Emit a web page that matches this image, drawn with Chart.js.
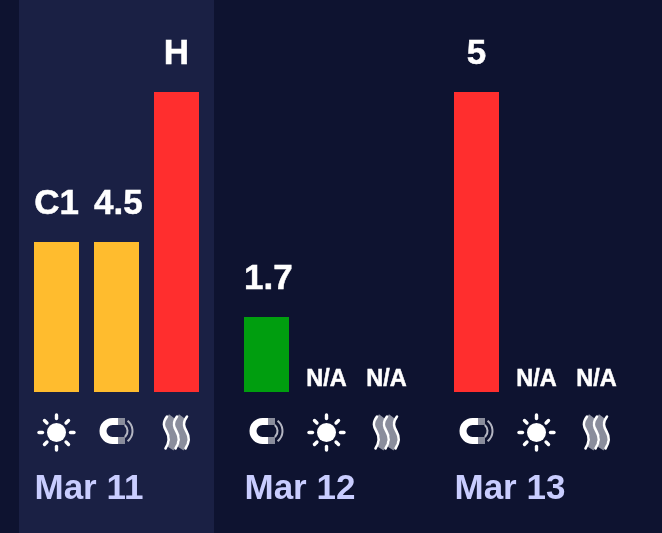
<!DOCTYPE html>
<html>
<head>
<meta charset="utf-8">
<script src="https://cdn.jsdelivr.net/npm/chart.js@4"></script>
<style>
html, body { margin: 0; padding: 0; background: #0e1330; overflow: hidden; }
canvas { display: block; }
</style>
</head>
<body>
<canvas id="nchart" width="662" height="533"></canvas>
<script>
const days = ["Mar 11", "Mar 12", "Mar 13"]

// bar height is the alert level: 1 low, 2 medium, 4 high, 0 no data
const levelsFirst = [2, 1, 4]
const levelsSecond = [2, 0, 0]
const levelsThird = [4, 0, 0]

const textFirst = ["C1", "1.7", "5"]
const textSecond = ["4.5", "N/A", "N/A"]
const textThird = ["H", "N/A", "N/A"]

const iconsFirst = ["sun", "magnet", "magnet"]
const iconsSecond = ["magnet", "sun", "sun"]
const iconsThird = ["heat", "heat", "heat"]

const levelColors = { 0: "#00000000", 1: "#009e0f", 2: "#ffbc2e", 4: "#ff2e2e" }
const band = "#1a2044"
const white = "#ffffff"
const grey = "#8a8d9c"

function drawSun(ctx, x, y) {
    ctx.fillStyle = white
    ctx.beginPath()
    ctx.arc(x, y, 9.5, 0, Math.PI * 2)
    ctx.fill()
    ctx.strokeStyle = white
    ctx.lineWidth = 3.4
    ctx.lineCap = "round"
    for (let i = 0; i < 8; i++) {
        const a = i * Math.PI / 4
        const long = i % 2 === 0
        const r1 = long ? 14 : 13.5
        const r2 = long ? 17.5 : 17
        ctx.beginPath()
        ctx.moveTo(x + Math.cos(a) * r1, y + Math.sin(a) * r1)
        ctx.lineTo(x + Math.cos(a) * r2, y + Math.sin(a) * r2)
        ctx.stroke()
    }
}

function drawMagnet(ctx, x, y) {
    const cx = x - 4
    const my = y - 1.5
    ctx.lineCap = "butt"
    ctx.lineWidth = 7
    ctx.strokeStyle = white
    ctx.beginPath()
    ctx.moveTo(cx + 6, my - 9.5)
    ctx.lineTo(cx, my - 9.5)
    ctx.arc(cx, my, 9.5, -Math.PI / 2, Math.PI / 2, true)
    ctx.lineTo(cx + 6, my + 9.5)
    ctx.stroke()
    ctx.strokeStyle = grey
    ctx.beginPath()
    ctx.moveTo(cx + 6, my - 9.5)
    ctx.lineTo(cx + 12.5, my - 9.5)
    ctx.moveTo(cx + 6, my + 9.5)
    ctx.lineTo(cx + 12.5, my + 9.5)
    ctx.stroke()
    ctx.strokeStyle = "#b4b6c2"
    ctx.lineWidth = 2
    ctx.beginPath()
    ctx.arc(x + 3, my, 8, -0.85, 0.85)
    ctx.stroke()
    ctx.beginPath()
    ctx.arc(x + 3, my, 13, -0.9, 0.9)
    ctx.stroke()
}

function wave(ctx, x, y) {
    ctx.beginPath()
    ctx.moveTo(x + 0.5, y - 16)
    ctx.bezierCurveTo(x - 4, y - 10, x - 3, y - 6, x, y - 1)
    ctx.bezierCurveTo(x + 3, y + 4, x + 3.5, y + 9, x - 1, y + 16)
    ctx.stroke()
}

function drawHeat(ctx, x, y) {
    ctx.lineCap = "butt"
    ctx.strokeStyle = grey
    ctx.lineWidth = 7.5
    wave(ctx, x - 5, y)
    wave(ctx, x + 5, y)
    ctx.lineCap = "round"
    ctx.strokeStyle = white
    ctx.lineWidth = 2.6
    wave(ctx, x - 10, y)
    wave(ctx, x, y)
    wave(ctx, x + 10, y)
}

const iconDraw = { sun: drawSun, magnet: drawMagnet, heat: drawHeat }

const bandPlugin = {
    id: "bandPlugin",
    beforeDraw(chart) {
        const ctx = chart.ctx
        const c = chart.scales.x.getPixelForTick(0)
        ctx.save()
        ctx.fillStyle = band
        ctx.fillRect(c - 97.5, 0, 195, chart.height)
        ctx.restore()
    }
}

const extrasPlugin = {
    id: "extrasPlugin",
    afterDatasetsDraw(chart) {
        const ctx = chart.ctx
        const base = chart.scales.y.getPixelForValue(0)
        ctx.save()
        ctx.textAlign = "left"
        ctx.textBaseline = "alphabetic"
        chart.data.datasets.forEach((ds, i) => {
            chart.getDatasetMeta(i).data.forEach((bar, j) => {
                const none = ds.data[j] === 0
                ctx.fillStyle = white
                ctx.strokeStyle = white
                ctx.lineWidth = 0.5
                ctx.font = none ? "bold 23.5px 'Liberation Sans'" : "bold 35px 'Liberation Sans'"
                // wide labels start at the bar's left edge, the rest are centred
                const w = ctx.measureText(ds.texts[j]).width
                const left = w > bar.width ? bar.x - bar.width / 2 : bar.x - w / 2
                const y = none ? base - 6 : bar.y - 28
                ctx.fillText(ds.texts[j], left, y)
                ctx.strokeText(ds.texts[j], left, y)
                iconDraw[ds.icons[j]](ctx, bar.x, base + 40.5)
            })
        })
        ctx.restore()
    }
}

function colorsFor(levels) {
    return levels.map(l => levelColors[l])
}

new Chart(document.getElementById("nchart"), {
    type: "bar",
    data: {
        labels: days,
        datasets: [
            { data: levelsFirst, texts: textFirst, icons: iconsFirst, backgroundColor: colorsFor(levelsFirst) },
            { data: levelsSecond, texts: textSecond, icons: iconsSecond, backgroundColor: colorsFor(levelsSecond) },
            { data: levelsThird, texts: textThird, icons: iconsThird, backgroundColor: colorsFor(levelsThird) }
        ]
    },
    options: {
        responsive: false,
        animation: false,
        events: [],
        categoryPercentage: 180 / 210,
        barPercentage: 0.75,
        layout: { padding: { left: 11.5, right: 20.5, top: 92, bottom: 0 } },
        plugins: { legend: { display: false }, tooltip: { enabled: false } },
        scales: {
            y: { display: false, min: 0, max: 4 },
            x: {
                grid: { display: false, drawTicks: false },
                border: { display: false },
                afterFit(scale) {
                    scale.height = 141
                    scale.paddingLeft = 0
                    scale.paddingRight = 0
                },
                ticks: {
                    align: "start",
                    labelOffset: -82,
                    padding: 76,
                    maxRotation: 0,
                    color: "#c9cdff",
                    font: { family: "'Liberation Sans'", weight: "bold", size: 35 }
                }
            }
        }
    },
    plugins: [bandPlugin, extrasPlugin]
})
</script>
</body>
</html>
